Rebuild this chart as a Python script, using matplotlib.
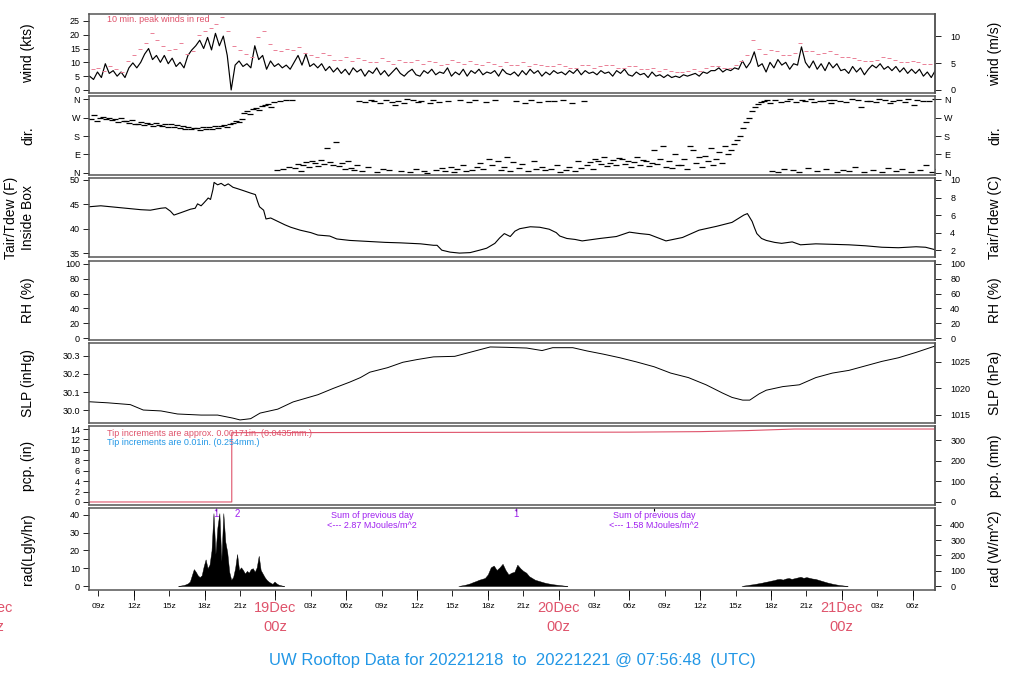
import numpy as np
import matplotlib
matplotlib.use('Agg')
import matplotlib.pyplot as plt
from matplotlib.transforms import blended_transform_factory

plt.rcParams['font.family'] = ['Liberation Sans', 'DejaVu Sans']

# time axis: hours relative to 19 Dec 2022 00z
x_min, x_max = -15.8, 55.9

# wind speed (kts), 20-minute samples starting 18 Dec 08:15z
wind_kts = [
    5.0, 3.8, 6.5,  4.5, 9.5, 6.0,  7.0, 5.0, 6.5,  4.5, 8.0, 9.8,
    8.0, 10.0, 13.0,  15.0, 11.0, 12.5,  10.0, 12.5, 9.5,  11.5, 8.5, 10.0,
    8.0, 12.5, 14.5,  16.0, 18.0, 15.0,  19.0, 14.5, 20.5,  16.0, 19.5, 12.5,
    0.0, 9.0, 10.5,  8.5, 9.5, 8.0,  16.0, 11.0, 12.5,  7.5, 10.5, 8.5,
    9.5, 8.0, 9.0,  7.5, 10.0, 12.5,  9.0, 13.0, 8.5,  9.5, 8.0, 9.5,
    7.0, 8.5, 6.5,  8.0, 6.0, 7.5,  5.5, 8.0, 6.5,  7.5, 5.0, 7.0,
    6.0, 8.0, 5.5,  7.0, 5.0, 6.5,  8.0, 6.0, 5.0,  6.5, 7.5, 5.5,
    5.0, 7.0, 6.0,  7.5, 5.5, 6.5,  6.0, 8.0, 5.0,  6.5, 5.5, 7.5,
    5.0, 7.0, 6.0,  7.5, 5.5, 6.5,  6.0, 7.0, 5.0,  7.5, 6.0, 5.5,
    6.5, 5.0, 7.0,  5.5, 7.5, 6.0,  7.0, 5.0, 6.5,  5.5, 7.0, 6.0,
    6.5, 5.5, 7.0,  6.0, 7.5, 5.5,  7.0, 6.0, 6.5,  5.5, 7.0, 6.0,
    6.5, 5.0, 7.0,  6.0, 7.5, 5.5,  5.0, 6.5, 5.5,  6.0, 4.5, 6.5,
    5.0, 5.5, 4.5,  5.5, 4.5, 5.0,  4.5, 5.5, 5.0,  5.5, 6.0, 5.0,
    6.5, 6.0, 7.0,  7.0, 8.0, 6.5,  7.5, 7.0, 8.0,  7.5, 10.5, 8.0,
    10.0, 13.8, 8.5,  9.5, 6.5, 10.0,  8.0, 11.0, 9.0,  10.0, 7.5, 9.5,
    9.0, 15.6, 10.0,  8.0, 10.5, 7.5,  9.5, 7.0, 10.0,  8.0, 9.5, 7.0,
    7.5, 6.0, 8.5,  6.5, 8.0, 5.5,  7.5, 9.0, 8.0,  9.5, 7.5, 8.5,
    7.0, 8.5, 6.5,  8.0, 6.0, 7.5,  6.0, 7.5, 5.0,  6.5, 4.5, 7.0,
]
wind_hours = np.arange(len(wind_kts)) / 3 - 15.75

# 10 min peak winds (kts), two per hour
gust_kts = [
    7.5, 8.0, 7.0, 8.5, 7.5, 6.5, 10.5, 12.5, 15.0, 17.0, 20.5, 18.0,
    16.0, 14.5, 15.0, 17.0, 13.0, 14.0, 20.0, 21.5, 22.5, 24.0, 26.5, 21.5,
    16.0, 14.5, 13.0, 12.0, 19.0, 21.5, 16.5, 14.5, 14.0, 15.0, 14.5, 15.5,
    13.5, 12.5, 12.0, 13.5, 12.5, 11.0, 11.0, 12.0, 10.5, 11.5, 11.0, 10.0,
    10.0, 11.5, 10.5, 9.5, 11.0, 10.0, 10.0, 11.0, 9.5, 10.5, 10.0, 9.0,
    9.5, 11.0, 10.0, 9.5, 10.5, 9.5, 9.0, 10.0, 9.5, 8.5, 10.0, 9.0,
    9.0, 10.0, 8.5, 9.5, 9.0, 8.5, 8.5, 9.5, 8.5, 8.0, 8.0, 9.0,
    9.0, 8.0, 8.5, 9.0, 9.0, 8.0, 8.0, 8.5, 8.5, 7.5, 7.5, 8.0,
    7.0, 7.5, 7.0, 6.5, 6.5, 7.0, 7.5, 7.0, 8.0, 8.5, 8.5, 8.0,
    8.0, 9.0, 10.5, 12.5, 18.0, 15.0, 13.0, 14.5, 14.0, 12.5, 12.5, 13.5,
    17.0, 14.0, 14.0, 13.0, 13.5, 14.0, 13.0, 12.0, 12.0, 11.5, 11.0, 10.5,
    10.5, 11.0, 12.0, 11.5, 11.0, 10.0, 10.0, 10.5, 10.0, 9.5, 9.5, 10.0,
]
gust_hours = np.arange(len(gust_kts)) / 2 - 15.5

# wind direction (deg), 15-minute samples
wind_dir = [
    265, 280, 255, 270,  275, 262, 268, 258,  262, 250, 268, 255,  252, 245, 258, 240,
    238, 248, 232, 242,  240, 230, 245, 236,  228, 238, 225, 240,  222, 232, 218, 228,
    215, 225, 212, 220,  218, 210, 225, 215,  222, 215, 228, 220,  228, 235, 225, 240,
    245, 255, 250, 262,  290, 300, 285, 310,  315, 305, 325, 330,  335, 320, 345, 15,
    350, 20, 355, 30,  355, 25, 45, 10,  40, 55, 30, 60,  50, 35, 65, 45,
    120, 55, 40, 150,  35, 50, 20, 60,  25, 15, 40, 350,  10, 345, 30, 355,
    350, 5, 340, 20,  355, 15, 345, 330,  350, 10, 340, 360,  5, 355, 20, 345,
    350, 10, 0, 340,  355, 15, 345, 25,  10, 350, 30, 5,  20, 355, 40, 10,
    345, 15, 355, 30,  50, 20, 345, 70,  40, 355, 60, 15,  30, 80, 10, 55,
    350, 25, 45, 340,  10, 355, 60, 20,  345, 30, 15, 350,  20, 350, 40, 5,
    355, 15, 30, 340,  10, 60, 25, 350,  40, 55, 20, 70,  60, 45, 80, 35,
    50, 65, 40, 75,  70, 45, 60, 30,  55, 80, 40, 65,  60, 35, 50, 110,
    45, 70, 130, 30,  60, 25, 90, 40,  40, 70, 20, 130,  110, 50, 80, 30,
    85, 60, 120, 40,  70, 100, 50, 130,  90, 110, 140, 160,  180, 220, 250, 270,
    300, 320, 335, 345,  350, 355, 340, 10,  355, 5, 348, 20,  350, 358, 15, 345,
    5, 355, 350, 25,  358, 345, 10, 352,  350, 20, 355, 340,  355, 5, 350, 15,
    348, 10, 358, 30,  355, 320, 5, 350,  350, 15, 345, 358,  5, 355, 25, 340,
    350, 10, 355, 20,  345, 358, 5, 330,  355, 15, 350, 40,  350, 5, 358, 20,
]
dir_hours = np.arange(len(wind_dir)) / 4 - 15.625

# air temperature inside box (F)
temp_hours = [-15.8, -14.8, -13.1, -11.4, -10.6, -9.7, -9.3, -8.9, -8.6, -8.0, -7.2,
              -6.8, -6.6, -6.3, -6.1, -5.8, -5.7, -5.5, -5.3, -5.2, -4.9, -4.6, -4.3,
              -4.0, -3.6, -3.2, -2.7, -2.1, -1.7, -1.5, -1.35, -1.0, -0.8, -0.4, 0.2,
              0.8, 1.3, 2.1, 3.0, 3.6, 4.6, 5.2, 6.3, 7.8, 9.3, 10.6, 12.3, 13.4, 13.7,
              14.1, 14.8, 15.6, 16.5, 17.3, 17.9, 18.6, 19.0, 19.4, 19.9, 20.3, 20.7,
              21.6, 22.4, 23.2, 23.8, 24.1, 24.7, 25.4, 26.0, 27.5, 28.9, 30.0, 30.9,
              31.7, 33.1, 34.5, 35.9, 37.4, 38.7, 39.7, 40.0, 40.4, 40.6, 40.8, 41.2,
              41.6, 42.3, 42.9, 43.8, 44.5, 45.8, 47.2, 48.6, 50.0, 51.4, 52.8, 54.3,
              55.1, 55.9]
temp_f = [44.5, 44.7, 44.3, 43.9, 43.8, 44.2, 44.3, 43.6, 42.8, 43.3, 44.0,
          44.2, 45.1, 44.7, 45.2, 46.0, 46.3, 46.0, 48.0, 49.5, 49.0, 49.3, 48.8,
          49.2, 48.5, 48.2, 47.8, 47.3, 47.0, 45.5, 44.5, 43.8, 42.0, 42.2, 41.5,
          40.8, 40.3, 39.7, 39.2, 38.7, 38.5, 37.9, 37.6, 37.4, 37.2, 37.1, 36.9, 36.6, 36.6,
          35.6, 35.2, 35.0, 35.1, 35.6, 36.0, 37.0, 38.1, 39.0, 38.4, 39.5, 40.0,
          40.4, 40.3, 39.9, 39.2, 38.5, 38.0, 37.8, 37.5, 38.0, 38.4, 39.3, 39.0,
          38.8, 37.5, 38.2, 39.7, 40.5, 41.3, 42.8, 43.1, 41.5, 40.2, 39.0, 38.0,
          37.6, 37.2, 37.0, 37.3, 36.7, 36.9, 36.8, 36.7, 36.5, 36.2, 36.1, 36.3,
          36.2, 35.7]

# sea level pressure (inHg)
slp_hours = [-15.8, -14.2, -12.3, -11.2, -9.7, -8.3, -6.3, -4.9, -3.6, -3.0, -2.1,
             -1.3, 0.2, 1.5, 3.6, 4.9, 6.3, 7.2, 8.0, 9.5, 10.8, 12.0, 13.4, 14.0,
             15.2, 16.7, 18.2, 19.6, 21.3, 22.6, 23.5, 25.2, 26.4, 27.8, 29.2, 30.6,
             32.1, 33.5, 35.0, 36.5, 37.9, 38.7, 39.6, 40.2, 41.0, 41.6, 43.0, 44.4,
             45.8, 47.2, 48.6, 50.0, 51.4, 52.8, 54.3, 55.9]
slp_inhg = [30.046, 30.040, 30.030, 30.000, 29.995, 29.978, 29.972, 29.972, 29.955, 29.945, 29.952,
            29.983, 30.005, 30.045, 30.085, 30.120, 30.155, 30.180, 30.210, 30.235, 30.265, 30.280, 30.295, 30.296,
            30.298, 30.324, 30.350, 30.348, 30.344, 30.330, 30.346, 30.346, 30.328, 30.310, 30.290, 30.267,
            30.240, 30.205, 30.180, 30.140, 30.094, 30.070, 30.055, 30.055, 30.090, 30.110, 30.130, 30.140,
            30.180, 30.205, 30.220, 30.245, 30.270, 30.290, 30.320, 30.355]

# precipitation accumulation (in)
pcp_hours = [-15.8, -3.7, -3.7, 30.0, 36.0, 40.0, 44.0, 55.9]
pcp_in = [0.0, 0.0, 13.3, 13.4, 13.5, 13.7, 14.0, 14.0]

# solar radiation (Langley/hr)
rad1 = [0, 0.2, 0.4, 0.6, 1.0, 1.5, 2.5, 6, 9.5, 8, 6, 5, 6, 11, 15, 10, 12, 20, 41,
        18, 33, 41, 14, 41, 25, 19, 8, 3.5, 5, 10, 18, 9, 10.5, 9, 7, 8.5, 7.5, 9.5,
        10, 8, 10.5, 17, 9, 7, 5, 3.5, 2.5, 1.8, 1.2, 2.5, 1.5, 0.8, 0.5, 0.2, 0]
rad2 = [0, 0.3, 0.6, 1.0, 1.5, 2.2, 2.8, 3.5, 4.0, 4.5, 6.5, 10.5, 11.5, 9, 10.5,
        12.5, 9, 6.5, 7.5, 8, 12, 10, 8.5, 7.5, 5.5, 4.5, 3.5, 3, 2.5, 2, 1.6, 1.3,
        1.0, 0.8, 0.6, 0.4, 0.2, 0]
rad3 = [0, 0.3, 0.5, 0.8, 1.0, 1.3, 1.6, 1.9, 2.3, 2.6, 3.0, 3.3, 3.8, 4.0, 3.6,
        4.2, 4.5, 4.0, 4.4, 4.8, 5.2, 4.6, 5.0, 4.6, 4.2, 4.0, 3.5, 3.0, 2.5, 2.0,
        1.6, 1.2, 0.9, 0.6, 0.4, 0.2, 0]
rad1_hours = np.arange(len(rad1)) / 6 - 8.25
rad2_hours = np.arange(len(rad2)) / 4 + 15.5
rad3_hours = np.arange(len(rad3)) / 4 + 39.5

red = '#DF536B'
pink = '#EA8096'
blue = '#2297E6'
purple = '#A020F0'
frame = '#555555'

W, H = 1024, 700
fig = plt.figure(figsize=(10.24, 7.0), dpi=100)


def panel(top, bottom):
    ax = fig.add_axes([89 / W, 1 - bottom / H, (935 - 89) / W, (bottom - top) / H])
    ax.set_xlim(x_min, x_max)
    for s in ax.spines.values():
        s.set_color(frame)
        s.set_linewidth(1.1)
    ax.tick_params(axis='y', direction='out', length=4, width=0.6, pad=2.5,
                   labelsize=6.5)
    ax.tick_params(axis='x', bottom=False, labelbottom=False)
    return ax


def right_axis(ax, fwd, inv, ticks):
    sec = ax.secondary_yaxis('right', functions=(fwd, inv))
    sec.set_yticks(ticks)
    sec.tick_params(direction='out', length=4, width=0.6, pad=7, labelsize=6.5)
    sec.spines['right'].set_color(frame)
    sec.spines['right'].set_linewidth(1.1)
    return sec


def ylabels(top, bottom, left, right):
    yc = 1 - (top + bottom) / 2 / H
    fig.text(28 / W, yc, left, rotation=90, ha='center', va='center', fontsize=10)
    fig.text(995 / W, yc, right, rotation=90, ha='center', va='center', fontsize=10)


# wind
ax1 = panel(14, 93)
ax1.plot(wind_hours, wind_kts, color='black', lw=0.85)
ax1.plot(gust_hours, gust_kts, ls='none', marker='_', ms=3.5, mew=0.7, color=pink)
ax1.set_ylim(-1.1, 27.5)
ax1.set_yticks([0, 5, 10, 15, 20, 25])
right_axis(ax1, lambda k: k * 0.514444, lambda m: m / 0.514444, [0, 5, 10])
ax1.text(-14.3, 25.5, '10 min. peak winds in red', color=red, fontsize=6.5,
         ha='left', va='center')
ylabels(14, 93, 'wind (kts)', 'wind (m/s)')

# direction
ax2 = panel(96, 175)
ax2.plot(dir_hours, wind_dir, ls='none', marker='_', ms=3.8, mew=0.9, color='black')
ax2.set_ylim(-10, 375)
ax2.set_yticks([0, 90, 180, 270, 360])
ax2.set_yticklabels(['N', 'E', 'S', 'W', 'N'])
ax2.tick_params(axis='y', right=True, labelright=True)
ylabels(96, 175, 'dir.', 'dir.')

# temperature
ax3 = panel(178, 257)
ax3.plot(temp_hours, temp_f, color='black', lw=0.8)
ax3.set_ylim(34.2, 50.4)
ax3.set_yticks([35, 40, 45, 50])
right_axis(ax3, lambda f: (f - 32) / 1.8, lambda c: c * 1.8 + 32, [2, 4, 6, 8, 10])
yc = 1 - 217.5 / H
fig.text(11 / W, yc, 'Tair/Tdew (F)', rotation=90, ha='center', va='center', fontsize=10)
fig.text(28 / W, yc, 'Inside Box', rotation=90, ha='center', va='center', fontsize=10)
fig.text(995 / W, yc, 'Tair/Tdew (C)', rotation=90, ha='center', va='center', fontsize=10)

# relative humidity (no data)
ax4 = panel(261, 340)
ax4.set_ylim(-2.7, 104)
ax4.set_yticks([0, 20, 40, 60, 80, 100])
right_axis(ax4, lambda r: r, lambda r: r, [0, 20, 40, 60, 80, 100])
ylabels(261, 340, 'RH (%)', 'RH (%)')

# pressure
ax5 = panel(343, 423)
ax5.plot(slp_hours, slp_inhg, color='black', lw=0.7)
ax5.set_ylim(29.928, 30.372)
ax5.set_yticks([30.0, 30.1, 30.2, 30.3])
ax5.set_yticklabels(['30.0', '30.1', '30.2', '30.3'])
right_axis(ax5, lambda p: p * 33.8639, lambda p: p / 33.8639, [1015, 1020, 1025])
ylabels(343, 423, 'SLP (inHg)', 'SLP (hPa)')

# precipitation
ax6 = panel(426, 505)
ax6.plot(pcp_hours, pcp_in, color=red, lw=0.8)
ax6.set_ylim(-0.58, 14.58)
ax6.set_yticks(range(0, 15, 2))
right_axis(ax6, lambda p: p * 25.4, lambda p: p / 25.4, [0, 100, 200, 300])
ax6.text(-14.3, 13.15, 'Tip increments are approx. 0.00171in. (0.0435mm.)', color=red,
         fontsize=6.5, ha='left', va='center')
ax6.text(-14.3, 11.45, 'Tip increments are 0.01in. (0.254mm.)', color=blue,
         fontsize=6.5, ha='left', va='center')
ylabels(426, 505, 'pcp. (in)', 'pcp. (mm)')

# radiation
ax7 = panel(508, 590)
for hrs, vals in [(rad1_hours, rad1), (rad2_hours, rad2), (rad3_hours, rad3)]:
    ax7.fill_between(hrs, 0, vals, color='black', lw=0.3)
ax7.set_ylim(-2.25, 43.9)
ax7.set_yticks([0, 10, 20, 30, 40])
right_axis(ax7, lambda r: r * 11.63, lambda w: w / 11.63, [0, 100, 200, 300, 400])
ylabels(508, 590, 'rad(Lgly/hr)', 'rad (W/m^2)')
ax7.vlines([-5.0, 20.4, 32.1], 42.0, 43.9, color='black', lw=0.8)
for hx, s in [(-5.0, '1'), (-3.2, '2'), (20.4, '1')]:
    ax7.text(hx, 40.3, s, color=purple, fontsize=7, ha='center', va='center')
for hx, s in [(8.2, '2.87'), (32.1, '1.58')]:
    ax7.text(hx, 36.8, 'Sum of previous day\n<--- %s MJoules/m^2' % s, color=purple,
             fontsize=6.5, ha='center', va='center', linespacing=1.15)

# time axis
hour_ticks = list(range(-15, 56, 3))
hour_labels = ['' if h % 24 == 0 else '%02dz' % (h % 24) for h in hour_ticks]
ax7.set_xticks(hour_ticks)
ax7.set_xticklabels(hour_labels)
ax7.set_xticks([h for h in hour_ticks if h % 6 == 0], minor=True)
ax7.xaxis.remove_overlapping_locs = False
ax7.tick_params(axis='x', which='major', bottom=True, labelbottom=True, direction='out',
                length=4, width=0.6, pad=5, labelsize=6)
ax7.tick_params(axis='x', which='minor', bottom=True, direction='out', length=7, width=0.6)

trans = blended_transform_factory(ax7.transData, fig.transFigure)
for hx, day in [(-24, '18Dec'), (0, '19Dec'), (24, '20Dec'), (48, '21Dec')]:
    ax7.text(hx, 1 - 608 / H, day, transform=trans, color=red, fontsize=10.5,
             ha='center', va='center', clip_on=False)
    ax7.text(hx, 1 - 627 / H, '00z', transform=trans, color=red, fontsize=10.5,
             ha='center', va='center', clip_on=False)

fig.text(0.5, 1 - 660 / H, 'UW Rooftop Data for 20221218  to  20221221 @ 07:56:48  (UTC)',
         color=blue, fontsize=12, ha='center', va='center')

fig.savefig('out.png', dpi=100)
